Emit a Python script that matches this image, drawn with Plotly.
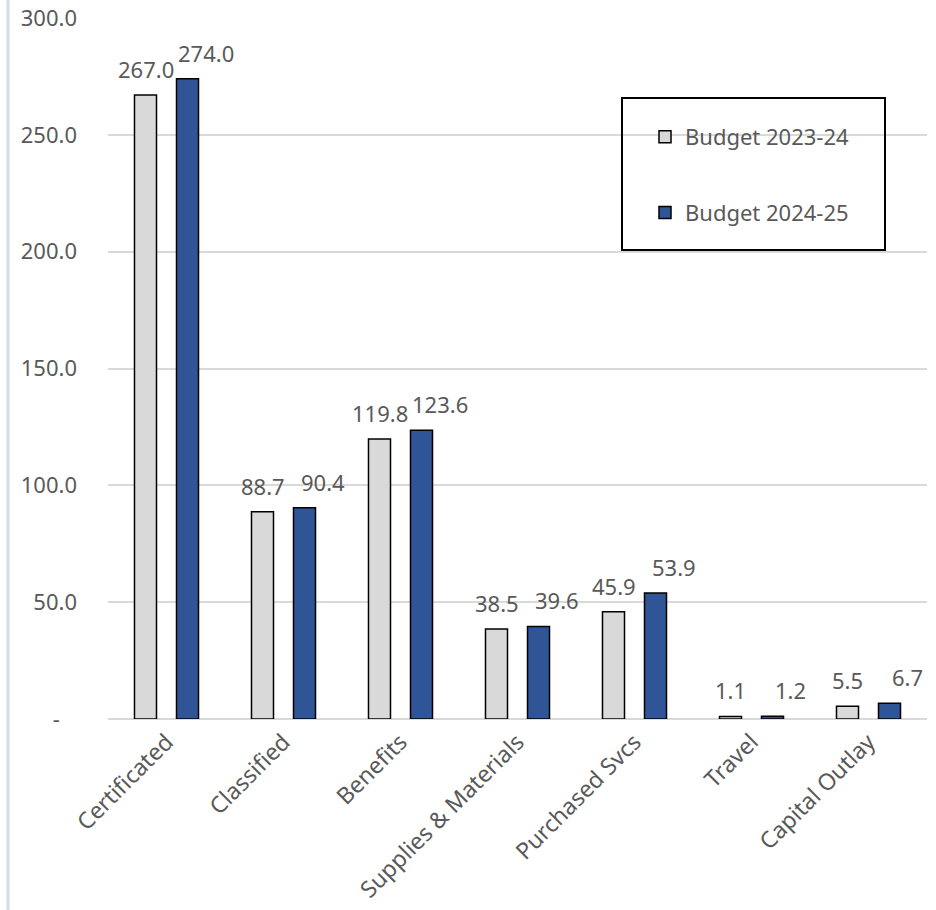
import plotly.graph_objects as go

categories = ["Certificated", "Classified", "Benefits", "Supplies & Materials",
              "Purchased Svcs", "Travel", "Capital Outlay"]
budget_2023_24 = [267.0, 88.7, 119.8, 38.5, 45.9, 1.1, 5.5]
budget_2024_25 = [274.0, 90.4, 123.6, 39.6, 53.9, 1.2, 6.7]
series_names = ["Budget 2023-24", "Budget 2024-25"]
tick_values = [0, 50, 100, 150, 200, 250, 300]
tick_labels = ["-\u00a0\u00a0\u00a0", "50.0", "100.0", "150.0", "200.0", "250.0", "300.0"]

FONT = "Noto Sans, Open Sans, sans-serif"
FS = 22
TEXT_GRAY = "#595959"
GRAY_FILL = "#d9d9d9"
BLUE_FILL = "#2f5597"

fig = go.Figure()
fig.add_trace(go.Bar(x=categories, y=budget_2023_24, name=series_names[0],
                     legendgroup="a",
                     marker=dict(color=GRAY_FILL, line=dict(color="#000000", width=1.5))))
fig.add_trace(go.Bar(x=categories, y=budget_2024_25, name=series_names[1],
                     legendgroup="b",
                     marker=dict(color=BLUE_FILL, line=dict(color="#000000", width=1.5))))

# value labels above each bar
annotations = []
for cat, v in zip(categories, budget_2023_24):
    annotations.append(dict(x=cat, y=v, text=f"{v:.1f}", showarrow=False,
                            xanchor="center", yanchor="bottom", xshift=-21, yshift=9,
                            font=dict(family=FONT, size=FS, color=TEXT_GRAY)))
for cat, v in zip(categories, budget_2024_25):
    annotations.append(dict(x=cat, y=v, text=f"{v:.1f}", showarrow=False,
                            xanchor="center", yanchor="bottom", xshift=39, yshift=9,
                            font=dict(family=FONT, size=FS, color=TEXT_GRAY)))

shapes = [
    # legend frame
    dict(type="rect", xref="paper", yref="paper",
         x0=(622 - 108) / 819, x1=(885 - 108) / 819,
         y0=1 - (250 - 18) / 701, y1=1 - (98 - 18) / 701,
         line=dict(color="#000000", width=2), fillcolor="rgba(0,0,0,0)", layer="above"),
    # left page rule
    dict(type="line", xref="paper", yref="paper",
         x0=(8 - 108) / 819, x1=(8 - 108) / 819, y0=-0.3, y1=1.05,
         line=dict(color="#d3dce8", width=3)),
]

fig.update_layout(
    width=936, height=910,
    margin=dict(l=108, r=9, t=18, b=191),
    paper_bgcolor="white", plot_bgcolor="white",
    barmode="group", bargap=0.282, bargroupgap=0.476,
    font=dict(family=FONT, size=FS, color=TEXT_GRAY),
    showlegend=True,
    legend=dict(x=(645 - 108) / 819, y=1 - (116 - 18) / 701, xanchor="left", yanchor="top",
                bgcolor="rgba(0,0,0,0)", borderwidth=0, tracegroupgap=44,
                font=dict(family=FONT, size=FS, color=TEXT_GRAY)),
    xaxis=dict(tickangle=-45, showgrid=False, showline=False, ticks="",
               automargin=False, ticklabelstandoff=4,
               tickfont=dict(family=FONT, size=23, color=TEXT_GRAY)),
    yaxis=dict(range=[0, 300], tickvals=tick_values, ticktext=tick_labels,
               automargin=False,
               showgrid=True, gridcolor="#d9d9d9", gridwidth=1.5,
               zeroline=True, zerolinecolor="#d9d9d9", zerolinewidth=1.5,
               showline=False, ticks="", ticklabelstandoff=30,
               tickfont=dict(family=FONT, size=FS, color=TEXT_GRAY)),
    annotations=annotations,
    shapes=shapes,
)

fig.write_html("out.html")
